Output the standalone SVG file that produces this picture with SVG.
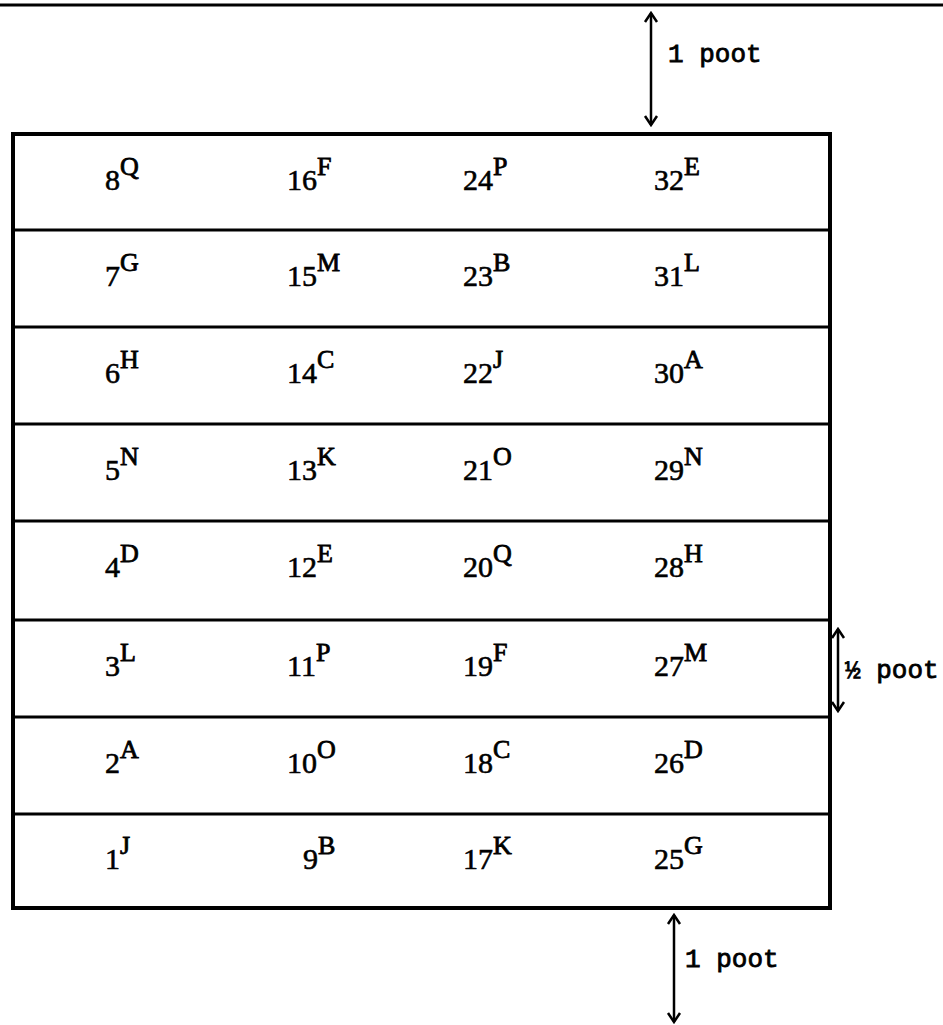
<svg xmlns="http://www.w3.org/2000/svg" width="943" height="1025" viewBox="0 0 943 1025">
<style>
.bg{fill:#fff}
.outer{fill:none;stroke:#000;stroke-width:4}
.div{stroke:#000;stroke-width:3}
.n{font-family:"Liberation Serif",serif;font-size:30px;fill:#000;stroke:#000;stroke-width:0.6}
.s{font-family:"Liberation Serif",serif;font-size:26px;stroke-width:0.8}
.lbl{font-family:"Liberation Mono",monospace;font-size:26px;fill:#000;stroke:#000;stroke-width:0.8}
.dim{stroke:#000;stroke-width:2.5;fill:none}
</style>
<defs>
<marker id="ah" viewBox="-12 -8 14 16" refX="0" refY="0" markerWidth="14" markerHeight="16" markerUnits="userSpaceOnUse" orient="auto-start-reverse">
<path d="M-9,-6 L0,0 L-9,6" fill="none" stroke="#000" stroke-width="2.5"/>
</marker>
</defs>
<rect class="bg" x="0" y="0" width="943" height="1025"/>
<line x1="0" y1="5" x2="943" y2="5" stroke="#000" stroke-width="3"/>
<g id="table">
<rect class="outer" x="13" y="134" width="817" height="774"/>
<line class="div" x1="13" y1="230" x2="830" y2="230"/>
<line class="div" x1="13" y1="327" x2="830" y2="327"/>
<line class="div" x1="13" y1="424" x2="830" y2="424"/>
<line class="div" x1="13" y1="521" x2="830" y2="521"/>
<line class="div" x1="13" y1="620" x2="830" y2="620"/>
<line class="div" x1="13" y1="717" x2="830" y2="717"/>
<line class="div" x1="13" y1="814" x2="830" y2="814"/>
</g>
<g id="row8">
<text class="n" x="105" y="190">8<tspan class="s" dy="-15">Q</tspan></text>
<text class="n" x="287" y="190">16<tspan class="s" dy="-15">F</tspan></text>
<text class="n" x="463" y="190">24<tspan class="s" dy="-15">P</tspan></text>
<text class="n" x="654" y="190">32<tspan class="s" dy="-15">E</tspan></text>
</g>
<g id="row7">
<text class="n" x="105" y="286">7<tspan class="s" dy="-15">G</tspan></text>
<text class="n" x="287" y="286">15<tspan class="s" dy="-15">M</tspan></text>
<text class="n" x="463" y="286">23<tspan class="s" dy="-15">B</tspan></text>
<text class="n" x="654" y="286">31<tspan class="s" dy="-15">L</tspan></text>
</g>
<g id="row6">
<text class="n" x="105" y="383">6<tspan class="s" dy="-15">H</tspan></text>
<text class="n" x="287" y="383">14<tspan class="s" dy="-15">C</tspan></text>
<text class="n" x="463" y="383">22<tspan class="s" dy="-15">J</tspan></text>
<text class="n" x="654" y="383">30<tspan class="s" dy="-15">A</tspan></text>
</g>
<g id="row5">
<text class="n" x="105" y="480">5<tspan class="s" dy="-15">N</tspan></text>
<text class="n" x="287" y="480">13<tspan class="s" dy="-15">K</tspan></text>
<text class="n" x="463" y="480">21<tspan class="s" dy="-15">O</tspan></text>
<text class="n" x="654" y="480">29<tspan class="s" dy="-15">N</tspan></text>
</g>
<g id="row4">
<text class="n" x="105" y="577">4<tspan class="s" dy="-15">D</tspan></text>
<text class="n" x="287" y="577">12<tspan class="s" dy="-15">E</tspan></text>
<text class="n" x="463" y="577">20<tspan class="s" dy="-15">Q</tspan></text>
<text class="n" x="654" y="577">28<tspan class="s" dy="-15">H</tspan></text>
</g>
<g id="row3">
<text class="n" x="105" y="676">3<tspan class="s" dy="-15">L</tspan></text>
<text class="n" x="287" y="676">11<tspan class="s" dy="-15">P</tspan></text>
<text class="n" x="463" y="676">19<tspan class="s" dy="-15">F</tspan></text>
<text class="n" x="654" y="676">27<tspan class="s" dy="-15">M</tspan></text>
</g>
<g id="row2">
<text class="n" x="105" y="773">2<tspan class="s" dy="-15">A</tspan></text>
<text class="n" x="287" y="773">10<tspan class="s" dy="-15">O</tspan></text>
<text class="n" x="463" y="773">18<tspan class="s" dy="-15">C</tspan></text>
<text class="n" x="654" y="773">26<tspan class="s" dy="-15">D</tspan></text>
</g>
<g id="row1">
<text class="n" x="105" y="869">1<tspan class="s" dy="-15">J</tspan></text>
<text class="n" x="303" y="869">9<tspan class="s" dy="-15">B</tspan></text>
<text class="n" x="463" y="869">17<tspan class="s" dy="-15">K</tspan></text>
<text class="n" x="654" y="869">25<tspan class="s" dy="-15">G</tspan></text>
</g>
<g id="connectors">
<line class="dim" x1="651" y1="13" x2="651" y2="125" marker-start="url(#ah)" marker-end="url(#ah)"/>
<line class="dim" x1="674" y1="915" x2="674" y2="1022" marker-start="url(#ah)" marker-end="url(#ah)"/>
<line class="dim" x1="838" y1="629" x2="838" y2="711" marker-start="url(#ah)" marker-end="url(#ah)"/>
</g>
<g id="labels">
<text class="lbl" x="668" y="62">1 poot</text>
<text class="lbl" x="685" y="967">1 poot</text>
<text class="lbl" x="845" y="678">½ poot</text>
</g>
</svg>
